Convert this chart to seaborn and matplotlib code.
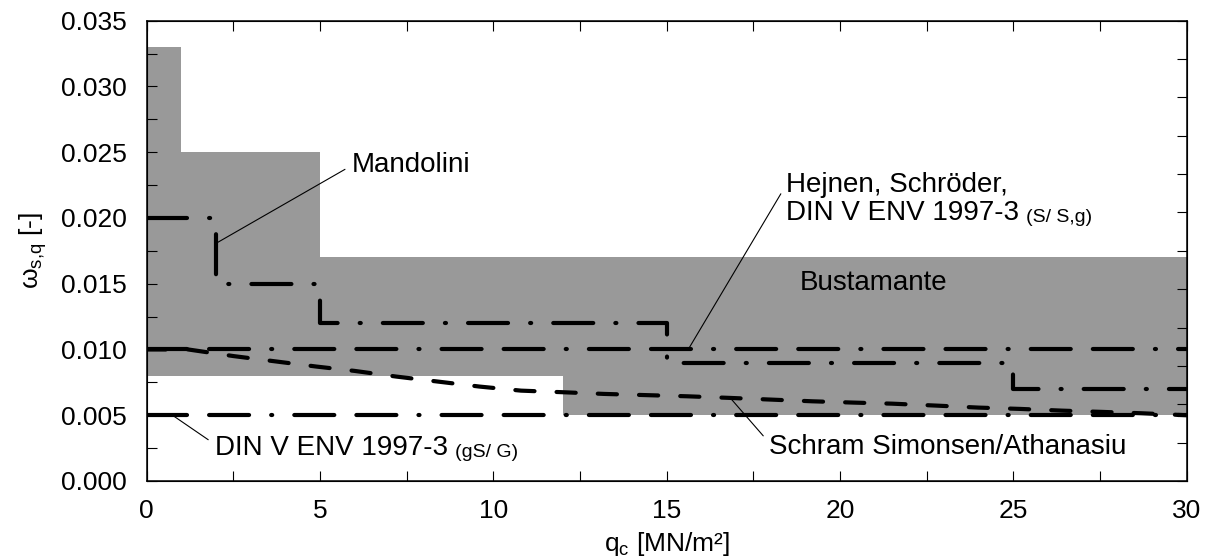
import matplotlib
matplotlib.use("Agg")
import matplotlib.pyplot as plt
import seaborn as sns

# ---------- data ----------
# Bustamante band, step edges (value holds until next q)
BUST_Q = [0, 1, 5, 12, 30]
BUST_UPPER = [0.033, 0.025, 0.017, 0.017, 0.017]
BUST_LOWER = [0.008, 0.008, 0.008, 0.005, 0.005]

# Mandolini, step function
MANDOLINI_Q = [0, 2, 5, 15, 25, 30]
MANDOLINI_W = [0.020, 0.015, 0.012, 0.009, 0.007, 0.007]

# Hejnen, Schröder, DIN V ENV 1997-3 (S/ S,g)
HEJNEN_Q = [0, 30]
HEJNEN_W = [0.010, 0.010]

# DIN V ENV 1997-3 (gS/ G)
DIN_GS_Q = [0, 30]
DIN_GS_W = [0.005, 0.005]

# Schram Simonsen/Athanasiu
SCHRAM_Q = [0, 1.2, 2.5, 3.7, 4.9, 6.0, 7.2, 8.4, 9.6, 10.8, 12.0, 13.2, 14.4,
            15.6, 16.8, 18.0, 19.2, 20.4, 21.5, 22.8, 24.0, 25.2, 26.4, 27.6, 28.7, 30.0]
SCHRAM_W = [0.0100, 0.0100, 0.0095, 0.0091, 0.0087, 0.00837, 0.00794, 0.00756,
            0.00718, 0.00687, 0.00675, 0.00662, 0.00653, 0.00644, 0.00632, 0.00619,
            0.00606, 0.00596, 0.00588, 0.00573, 0.00558, 0.00548, 0.00535, 0.00525,
            0.00515, 0.0050]

X_TICKS = [0, 5, 10, 15, 20, 25, 30]
Y_TICKS = [0.000, 0.005, 0.010, 0.015, 0.020, 0.025, 0.030, 0.035]
Y_TICK_LABELS = [f"{v:.3f}" for v in Y_TICKS]

# ---------- style ----------
sns.set_style("ticks")
plt.rcParams["font.family"] = ["Liberation Sans", "DejaVu Sans"]
plt.rcParams["mathtext.fontset"] = "custom"
plt.rcParams["mathtext.rm"] = "Liberation Sans"
plt.rcParams["mathtext.it"] = "Liberation Sans:italic"
for key in ("text.color", "axes.labelcolor", "xtick.color", "ytick.color",
            "axes.edgecolor"):
    plt.rcParams[key] = "black"

LW = 3
DASH_DOT = (0, (9.6, 5.3, 0.25, 5.3))
DASH_DASH_DOT = (0, (9.6, 5.3, 9.6, 5.3, 0.25, 5.3))
DASHED = (0, (4.6, 5.3))
GRAY = "#999999"

fig = plt.figure(figsize=(12.1, 5.6), dpi=100)
ax = fig.add_axes([0.1212, 0.1411, 0.9807 - 0.1212, 0.963 - 0.1411])

ax.fill_between(BUST_Q, BUST_LOWER, BUST_UPPER, step="post", color=GRAY,
                linewidth=0, zorder=1)

line_kw = dict(color="black", linewidth=LW, dash_capstyle="round",
               estimator=None, sort=False, ax=ax, zorder=3)
sns.lineplot(x=HEJNEN_Q, y=HEJNEN_W, linestyle=DASH_DASH_DOT, **line_kw)
sns.lineplot(x=DIN_GS_Q, y=DIN_GS_W, linestyle=DASH_DASH_DOT, **line_kw)
sns.lineplot(x=SCHRAM_Q, y=SCHRAM_W, linestyle=DASHED, **line_kw)
sns.lineplot(x=MANDOLINI_Q, y=MANDOLINI_W, linestyle=DASH_DOT,
             drawstyle="steps-post", **line_kw)

ax.set_xlim(0, 30)
ax.set_ylim(0, 0.035)
ax.set_xticks(X_TICKS)
ax.set_xticks([2.5 + 5 * i for i in range(6)], minor=True)
ax.set_yticks(Y_TICKS, Y_TICK_LABELS)
ax.set_yticks([0.0025 + 0.005 * i for i in range(7)], minor=True)
ax.tick_params(which="both", direction="in", length=7, width=0.8,
               top=True, right=False, labelsize=19, color="black")
ax.tick_params(axis="y", pad=14)
ax.tick_params(axis="x", pad=13)
ax.set_axisbelow(False)
for sp in ax.spines.values():
    sp.set_linewidth(1.1)
    sp.set_color("black")
    sp.set_zorder(5)

# right axis carries its own, finer tick spacing in the original
ax2 = ax.twinx()
ax2.set_ylim(0, 12)
ax2.set_yticks(range(13))
ax2.tick_params(direction="in", length=7, width=0.8, labelright=False,
                color="black")

ax.set_xlabel(r"$\mathrm{q_c}$ [MN/m²]", fontsize=19, labelpad=5)
ax.set_ylabel(r"$\mathrm{\omega_{s{,}q}}$ [-]", fontsize=19, labelpad=9)

# ---------- annotations ----------
TXT = 20
SMALL = 14
lead = dict(arrowstyle="-", color="black", lw=0.8, shrinkA=3, shrinkB=0)

ax.annotate("Mandolini", xy=(2.02, 0.0181), xytext=(5.92, 0.0240),
            ha="left", va="center", fontsize=TXT,
            arrowprops=dict(lead, relpos=(0, 0.5)))

ax.annotate("Hejnen, Schröder,", xy=(15.66, 0.01017), xytext=(18.45, 0.02253),
            ha="left", va="center", fontsize=TXT,
            arrowprops=dict(lead, relpos=(0, 0.5)))
t2 = ax.text(18.45, 0.02037, "DIN V ENV 1997-3", ha="left", va="center",
             fontsize=TXT)
ax.annotate("(S/ S,g)", xy=(1, 0), xycoords=t2, xytext=(5, 0),
            textcoords="offset points", ha="left", va="bottom", fontsize=SMALL)

ax.text(18.83, 0.01505, "Bustamante", ha="left", va="center", fontsize=TXT)

t3 = ax.annotate("DIN V ENV 1997-3", xy=(0.8, 0.0049), xytext=(1.97, 0.00249),
                 ha="left", va="center", fontsize=TXT,
                 arrowprops=dict(lead, relpos=(0, 0.65)))
ax.annotate("(gS/ G)", xy=(1, 0), xycoords=t3, xytext=(5, 0),
            textcoords="offset points", ha="left", va="bottom", fontsize=SMALL)

ax.annotate("Schram Simonsen/Athanasiu", xy=(16.86, 0.00624),
            xytext=(17.96, 0.00261), ha="left", va="center", fontsize=TXT,
            arrowprops=dict(lead, relpos=(0, 0.65)))

fig.savefig("out.png", dpi=100)
